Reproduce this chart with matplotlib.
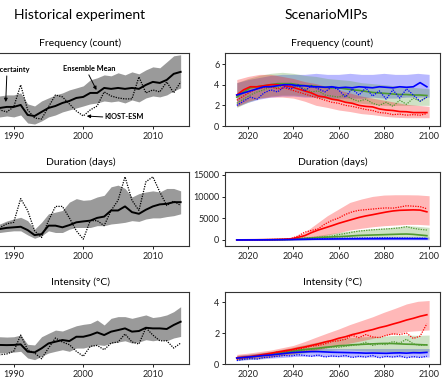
import numpy as np
import matplotlib
matplotlib.use('Agg')
import matplotlib.pyplot as plt

plt.rcParams['font.family'] = ['Lato', 'DejaVu Sans']

# ---- historical experiment (1985-2014) ----
HIST_YEARS = np.arange(1985, 2015)

hist_freq_mean = [1.83, 1.63, 1.73, 1.73, 1.83, 1.83, 2.02, 1.06, 0.96, 1.35,
                  1.73, 1.92, 2.21, 2.40, 2.69, 2.79, 3.17, 3.17, 3.65, 3.56,
                  3.65, 3.56, 3.65, 3.56, 3.94, 4.23, 4.13, 4.42, 5.00, 5.19]
hist_freq_hi = [2.79, 2.88, 2.69, 2.88, 2.98, 2.98, 3.17, 2.12, 1.92, 2.40,
                2.69, 2.98, 3.17, 3.46, 3.65, 3.85, 4.42, 4.62, 4.90, 4.81,
                5.10, 4.90, 5.19, 5.00, 5.38, 5.67, 5.58, 6.15, 6.73, 6.83]
hist_freq_lo = [0.96, 0.77, 0.87, 0.87, 0.96, 0.87, 1.06, 0.29, 0.19, 0.48,
                0.87, 1.06, 1.35, 1.54, 1.73, 1.92, 2.12, 2.21, 2.40, 2.31,
                2.40, 2.21, 2.50, 2.31, 2.69, 2.88, 2.79, 2.98, 3.37, 3.65]
hist_freq_kiost = [1.35, 1.06, 1.44, 1.54, 1.35, 1.83, 3.94, 1.54, 0.77, 0.67,
                   1.83, 2.98, 2.79, 2.12, 1.44, 0.96, 1.54, 1.92, 3.27, 2.88,
                   2.69, 2.60, 2.60, 4.71, 3.17, 3.46, 3.27, 4.23, 3.17, 4.23]

hist_dur_mean = [9.3, 9.0, 9.3, 9.2, 9.8, 10.1, 10.4, 8.6, 5.9, 6.4,
                 11.0, 11.0, 10.1, 11.3, 12.8, 13.3, 13.7, 15.2, 15.9, 19.2,
                 19.2, 21.4, 18.3, 17.4, 19.6, 21.4, 22.5, 22.8, 23.7, 23.7]
hist_dur_hi = [12.5, 12.0, 12.3, 11.9, 13.5, 14.6, 15.5, 13.7, 9.1, 12.8,
               17.4, 18.3, 19.2, 23.7, 25.6, 24.7, 25.0, 26.5, 27.4, 32.0,
               32.9, 31.1, 26.5, 28.3, 29.2, 29.8, 29.2, 31.1, 31.1, 29.8]
hist_dur_lo = [7.0, 6.8, 7.2, 7.3, 7.8, 8.2, 8.2, 6.0, 4.2, 5.5,
               8.2, 7.3, 7.3, 9.1, 10.0, 10.0, 10.0, 11.0, 11.0, 11.9,
               12.3, 12.8, 13.7, 13.3, 14.6, 15.2, 15.2, 15.9, 16.4, 17.4]
hist_dur_kiost = [9.0, 11.0, 8.0, 10.0, 12.0, 12.8, 25.6, 19.2, 8.2, 4.6,
                  13.7, 21.4, 21.4, 15.2, 8.2, 3.7, 13.7, 13.7, 11.0, 19.2,
                  24.7, 37.4, 24.7, 19.2, 34.7, 37.4, 29.2, 21.9, 24.3, 21.9]

hist_int_mean = [1.20, 1.25, 1.18, 1.23, 1.22, 1.23, 1.27, 0.80, 0.75, 1.01,
                 1.33, 1.44, 1.55, 1.48, 1.76, 1.76, 1.87, 2.04, 1.87, 2.09,
                 2.19, 2.30, 2.09, 2.13, 2.34, 2.30, 2.30, 2.26, 2.52, 2.73]
hist_int_hi = [1.70, 1.78, 1.72, 1.76, 1.74, 1.76, 1.87, 1.27, 1.23, 1.76,
               1.98, 2.19, 2.13, 2.30, 2.47, 2.56, 2.62, 2.84, 2.52, 2.95,
               3.06, 3.06, 2.95, 3.06, 3.17, 3.00, 3.06, 3.17, 3.38, 3.70]
hist_int_lo = [0.72, 0.75, 0.70, 0.71, 0.74, 0.77, 0.82, 0.39, 0.28, 0.50,
               0.71, 0.82, 0.92, 0.82, 1.03, 1.03, 1.14, 1.25, 1.20, 1.35,
               1.42, 1.50, 1.35, 1.42, 1.57, 1.50, 1.57, 1.50, 1.68, 1.78]
hist_int_kiost = [0.70, 0.55, 0.65, 0.60, 0.65, 0.82, 1.87, 0.92, 0.71, 0.34,
                  1.03, 1.68, 1.42, 1.25, 0.82, 0.50, 1.14, 1.20, 0.92, 1.35,
                  1.42, 1.94, 1.42, 1.29, 2.34, 1.87, 1.50, 1.50, 1.03, 1.35]

# ---- ScenarioMIPs (2015-2100) ----
BAND_YEARS = np.arange(2015, 2101, 5)   # envelope
LINE_YEARS = np.arange(2015, 2101, 3)   # ensemble mean / KIOST-ESM
SCENARIOS = ['ssp126', 'ssp245', 'ssp585']
COLORS = {'ssp126': '#0000ff', 'ssp245': '#4f9a2f', 'ssp585': '#ff0000'}

freq_mean = {
    'ssp126': [3.0, 3.2, 3.4, 3.6, 3.8, 3.8, 3.9, 4.0, 4.0, 3.9, 3.9, 3.8, 3.8, 3.75, 3.8,
               3.7, 3.75, 3.7, 3.8, 3.75, 3.7, 3.8, 3.75, 3.7, 3.8, 3.75, 3.8, 4.2, 3.8],
    'ssp245': [2.8, 3.3, 3.7, 3.8, 3.9, 4.0, 4.1, 4.1, 4.1, 4.0, 3.9, 3.9, 3.8, 3.75, 3.7,
               3.7, 3.6, 3.5, 3.45, 3.35, 3.25, 3.2, 3.15, 3.1, 3.05, 3.05, 3.0, 3.0, 2.95],
    'ssp585': [3.0, 3.5, 3.8, 3.8, 3.9, 4.0, 4.0, 3.9, 3.8, 3.6, 3.4, 3.2, 2.9, 2.8, 2.6,
               2.5, 2.3, 2.2, 2.0, 1.9, 1.85, 1.65, 1.55, 1.5, 1.4, 1.38, 1.3, 1.3, 1.3],
}
freq_kiost = {
    'ssp126': [2.0, 2.4, 2.8, 2.6, 3.2, 3.5, 3.3, 3.8, 3.6, 4.0, 3.4, 3.9, 3.6, 3.3, 3.8,
               3.5, 2.8, 3.6, 3.0, 3.7, 2.9, 3.4, 2.6, 3.5, 2.7, 3.6, 3.0, 2.4, 2.8],
    'ssp245': [2.2, 2.6, 3.0, 3.3, 3.5, 3.8, 3.7, 4.0, 3.9, 3.8, 3.6, 3.3, 3.4, 3.0, 2.9,
               2.8, 3.0, 2.6, 2.4, 2.6, 2.2, 2.0, 2.3, 1.9, 2.5, 2.1, 2.7, 2.4, 2.8],
    'ssp585': [2.5, 2.9, 3.3, 3.6, 3.7, 3.8, 3.6, 3.7, 3.5, 3.3, 3.1, 2.9, 2.7, 2.5, 2.3,
               2.2, 2.0, 1.9, 1.75, 1.6, 1.5, 1.3, 1.25, 1.1, 1.15, 1.05, 1.1, 1.05, 1.2],
}
freq_hi = {
    'ssp126': [4.2, 4.5, 4.7, 4.9, 5.0, 5.0, 5.0, 5.1, 5.0, 5.0, 5.1, 5.0, 5.0, 5.1, 5.0, 5.0, 5.1, 5.0],
    'ssp245': [4.2, 4.6, 4.9, 5.1, 5.2, 5.1, 4.9, 4.8, 4.6, 4.5, 4.4, 4.2, 4.1, 4.0, 3.9, 3.8, 3.7, 3.6],
    'ssp585': [4.5, 4.8, 5.0, 5.0, 4.8, 4.6, 4.3, 4.1, 3.8, 3.5, 3.2, 2.9, 2.7, 2.5, 2.3, 2.1, 2.0, 1.9],
}
freq_lo = {
    'ssp126': [1.9, 2.3, 2.6, 2.8, 2.9, 2.9, 2.8, 2.8, 2.7, 2.7, 2.7, 2.7, 2.8, 2.7, 2.7, 2.8, 2.8, 2.8],
    'ssp245': [1.8, 2.3, 2.7, 2.9, 3.0, 3.0, 2.9, 2.8, 2.6, 2.4, 2.3, 2.2, 2.1, 2.0, 2.0, 2.0, 2.0, 2.0],
    'ssp585': [1.9, 2.4, 2.7, 2.8, 2.8, 2.7, 2.4, 2.0, 1.8, 1.55, 1.4, 1.2, 1.1, 0.95, 0.85, 0.8, 0.8, 0.8],
}

dur_mean = {
    'ssp126': [10, 15, 20, 25, 35, 45, 60, 75, 95, 120, 150, 180, 200, 215, 230,
               245, 255, 265, 275, 280, 285, 290, 295, 300, 300, 300, 295, 290, 280],
    'ssp245': [20, 25, 30, 40, 50, 60, 80, 100, 150, 250, 350, 450, 550, 650, 700,
               770, 850, 950, 1050, 1100, 1150, 1200, 1250, 1300, 1350, 1380, 1300, 1150, 1000],
    'ssp585': [30, 40, 50, 60, 80, 100, 130, 170, 250, 600, 1000, 1700, 2300, 2800, 3300,
               3840, 4300, 4750, 5200, 5550, 5840, 6150, 6450, 6700, 6850, 6900, 6950, 6900, 6500],
}
dur_kiost = {
    'ssp126': [10, 10, 20, 30, 40, 55, 70, 90, 120, 160, 200, 250, 300, 320, 360,
               400, 420, 440, 450, 470, 480, 500, 510, 490, 470, 450, 430, 420, 400],
    'ssp245': [20, 25, 35, 40, 60, 80, 110, 150, 200, 350, 450, 550, 650, 750, 900,
               1230, 1500, 1800, 2050, 2200, 2350, 2450, 2550, 2650, 2800, 3070, 2700, 2450, 2300],
    'ssp585': [20, 30, 50, 60, 90, 120, 150, 200, 350, 900, 1800, 2200, 2600, 3700, 4500,
               5070, 5900, 6500, 6850, 7000, 7140, 7300, 7400, 7350, 7600, 7900, 7800, 7700, 7200],
}
dur_hi = {
    'ssp126': [40, 50, 70, 100, 150, 200, 320, 450, 530, 600, 640, 670, 690, 700, 700, 700, 700, 700],
    'ssp245': [60, 80, 100, 150, 250, 400, 700, 1000, 1400, 1770, 2100, 2400, 2600, 2760, 3000, 3300, 3150, 2920],
    'ssp585': [100, 150, 200, 300, 400, 700, 1770, 3690, 5600, 7140, 8680, 9450, 10060, 10370, 10440, 10440, 10400, 10210],
}
dur_lo = {
    'ssp126': [0, 0, 0, 0, 0, 0, 10, 20, 30, 40, 50, 50, 50, 50, 50, 50, 50, 50],
    'ssp245': [0, 0, 0, 0, 0, 0, 30, 100, 150, 200, 230, 260, 280, 300, 300, 300, 280, 250],
    'ssp585': [0, 0, 0, 0, 0, 50, 200, 600, 1150, 1700, 2300, 2700, 3050, 3300, 3450, 3600, 3600, 3450],
}

int_mean = {
    'ssp126': [0.38, 0.42, 0.46, 0.50, 0.55, 0.58, 0.63, 0.68, 0.73, 0.76, 0.78, 0.80, 0.80, 0.78, 0.76,
               0.75, 0.74, 0.73, 0.72, 0.70, 0.71, 0.70, 0.69, 0.71, 0.72, 0.70, 0.73, 0.72, 0.75],
    'ssp245': [0.38, 0.42, 0.47, 0.52, 0.58, 0.64, 0.70, 0.76, 0.82, 0.88, 0.94, 0.98, 1.02, 1.08, 1.12,
               1.18, 1.20, 1.24, 1.26, 1.28, 1.30, 1.32, 1.33, 1.32, 1.30, 1.28, 1.27, 1.25, 1.23],
    'ssp585': [0.40, 0.44, 0.48, 0.55, 0.62, 0.69, 0.77, 0.85, 0.92, 1.02, 1.10, 1.20, 1.30, 1.42, 1.52,
               1.66, 1.76, 1.90, 2.00, 2.12, 2.22, 2.35, 2.45, 2.58, 2.70, 2.84, 2.95, 3.08, 3.18],
}
int_kiost = {
    'ssp126': [0.22, 0.30, 0.35, 0.32, 0.42, 0.45, 0.50, 0.55, 0.52, 0.60, 0.55, 0.50, 0.58, 0.45, 0.52,
               0.48, 0.55, 0.42, 0.50, 0.45, 0.55, 0.40, 0.50, 0.45, 0.52, 0.40, 0.48, 0.42, 0.50],
    'ssp245': [0.30, 0.40, 0.42, 0.50, 0.55, 0.62, 0.66, 0.75, 0.78, 0.86, 0.90, 0.95, 1.00, 1.05, 1.10,
               1.08, 1.15, 1.20, 1.25, 1.40, 1.20, 1.30, 1.25, 1.45, 1.35, 1.60, 1.30, 1.20, 1.25],
    'ssp585': [0.30, 0.38, 0.45, 0.50, 0.60, 0.66, 0.78, 0.80, 0.90, 0.95, 1.05, 1.15, 1.20, 1.30, 1.45,
               1.50, 1.60, 1.85, 1.70, 1.90, 1.75, 1.70, 1.85, 1.95, 1.90, 2.00, 1.65, 1.80, 2.60],
}
int_hi = {
    'ssp126': [0.55, 0.62, 0.70, 0.78, 0.88, 0.95, 1.00, 1.02, 1.02, 1.00, 1.00, 1.00, 1.00, 1.00, 1.00, 1.00, 1.00, 1.00],
    'ssp245': [0.55, 0.62, 0.72, 0.82, 0.95, 1.10, 1.25, 1.40, 1.55, 1.66, 1.70, 1.75, 1.78, 1.80, 1.85, 1.87, 1.85, 1.87],
    'ssp585': [0.62, 0.70, 0.80, 0.90, 1.05, 1.20, 1.45, 1.73, 2.00, 2.26, 2.55, 2.80, 3.05, 3.34, 3.60, 3.88, 4.05, 4.10],
}
int_lo = {
    'ssp126': [0.22, 0.28, 0.32, 0.38, 0.42, 0.48, 0.50, 0.50, 0.48, 0.47, 0.46, 0.45, 0.45, 0.45, 0.45, 0.44, 0.45, 0.45],
    'ssp245': [0.25, 0.30, 0.35, 0.45, 0.55, 0.62, 0.72, 0.80, 0.85, 0.92, 0.90, 0.85, 0.82, 0.80, 0.80, 0.80, 0.80, 0.80],
    'ssp585': [0.30, 0.35, 0.40, 0.45, 0.55, 0.66, 0.78, 0.90, 1.05, 1.20, 1.35, 1.50, 1.65, 1.84, 1.95, 2.10, 2.15, 2.20],
}

TICK_FS = 6.5
SUB_FS = 7.5


def style(ax):
    for sp in ax.spines.values():
        sp.set_color('#333333')
        sp.set_linewidth(0.8)
    ax.tick_params(labelsize=TICK_FS, length=2.5, width=0.7, pad=1.5, colors='#222222')


fig = plt.figure(figsize=(4.43, 3.81), dpi=100)
W, H = 443.0, 381.0
rows = [(53, 126), (172, 246), (292, 364)]   # top/bottom in pixels


def axes_at(x0, x1, top, bot):
    return fig.add_axes([x0 / W, 1 - bot / H, (x1 - x0) / W, (bot - top) / H])


# ---- left column ----
hist = [
    ('Frequency (count)', hist_freq_mean, hist_freq_lo, hist_freq_hi, hist_freq_kiost, (0, 7.0)),
    ('Duration (days)', hist_dur_mean, hist_dur_lo, hist_dur_hi, hist_dur_kiost, (0, 40)),
    ('Intensity (°C)', hist_int_mean, hist_int_lo, hist_int_hi, hist_int_kiost, (0, 4.65)),
]
left_axes = []
for (top, bot), (title, mean, lo, hi, kio, ylim) in zip(rows, hist):
    ax = axes_at(-28, 189, top, bot)
    ax.fill_between(HIST_YEARS, lo, hi, color='#9a9a9a', lw=0)
    ax.plot(HIST_YEARS, mean, color='black', lw=1.4)
    ax.plot(HIST_YEARS, kio, color='black', lw=0.9, ls=(0, (1, 1)))
    ax.set_xlim(1984.0, 2015.2)
    ax.set_ylim(*ylim)
    ax.set_xticks([1990, 2000, 2010])
    ax.set_yticks([])
    ax.set_title(title, fontsize=SUB_FS, pad=5)
    style(ax)
    left_axes.append(ax)

ax = left_axes[0]
arrow = dict(arrowstyle='-|>', color='black', lw=0.7, mutation_scale=5, shrinkA=0, shrinkB=0)
ax.text(1989.5, 5.45, 'Uncertainty', fontsize=5.3, fontweight='bold', ha='center', va='center')
ax.annotate('', xy=(1988.85, 2.3), xytext=(1989.0, 4.8), arrowprops=arrow)
ax.text(2000.8, 5.5, 'Ensemble Mean', fontsize=5.3, fontweight='bold', ha='center', va='center')
ax.annotate('', xy=(2001.9, 3.45), xytext=(2000.8, 4.9), arrowprops=arrow)
ax.text(2003.0, 0.87, 'KIOST-ESM', fontsize=5.3, fontweight='bold', ha='left', va='center')
ax.annotate('', xy=(2000.5, 0.95), xytext=(2002.8, 0.87), arrowprops=arrow)

# ---- right column ----
scen = [
    ('Frequency (count)', freq_mean, freq_lo, freq_hi, freq_kiost, (0, 7.07), [0, 2, 4, 6]),
    ('Duration (days)', dur_mean, dur_lo, dur_hi, dur_kiost, (-1385, 15690), [0, 5000, 10000, 15000]),
    ('Intensity (°C)', int_mean, int_lo, int_hi, int_kiost, (0, 4.65), [0, 2, 4]),
]
for (top, bot), (title, mean, lo, hi, kio, ylim, yt) in zip(rows, scen):
    ax = axes_at(225, 440, top, bot)
    for s in ['ssp126', 'ssp245', 'ssp585']:
        ax.fill_between(BAND_YEARS, lo[s], hi[s], color=COLORS[s], alpha=0.28, lw=0)
    for s in ['ssp245', 'ssp585', 'ssp126']:
        ax.plot(LINE_YEARS, kio[s], color=COLORS[s], lw=0.9, ls=(0, (1, 1)))
        ax.plot(LINE_YEARS, mean[s], color=COLORS[s], lw=1.2)
    ax.set_xlim(2009.8, 2104.8)
    ax.set_ylim(*ylim)
    ax.set_xticks([2020, 2040, 2060, 2080, 2100])
    ax.set_yticks(yt)
    ax.set_title(title, fontsize=SUB_FS, pad=5)
    style(ax)

fig.text(80 / W, 1 - 15 / H, 'Historical experiment', fontsize=10, ha='center', va='center')
fig.text(326 / W, 1 - 15 / H, 'ScenarioMIPs', fontsize=10, ha='center', va='center')

fig.savefig('out.png', dpi=100)
